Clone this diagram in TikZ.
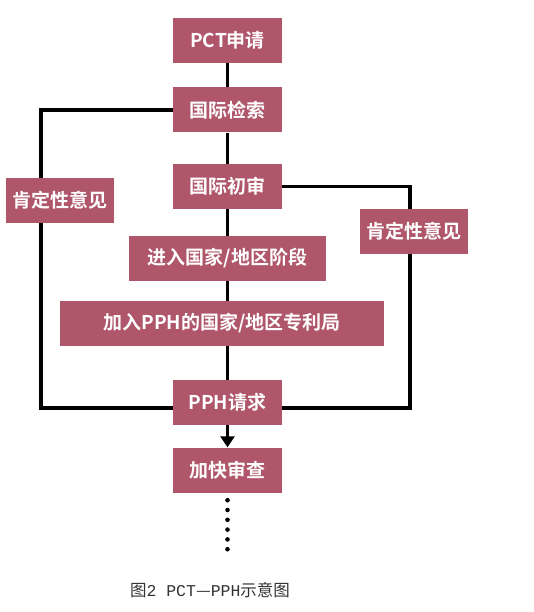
\documentclass[tikz,border=0pt]{standalone}
\usepackage{fontspec}
\usepackage{xcolor}
\usetikzlibrary{arrows.meta,positioning,backgrounds}
\newfontfamily\cjkbold{Noto Sans CJK SC Bold}
\newfontfamily\cjkcap{Noto Sans CJK SC}
\newfontfamily\capmono{Liberation Mono}
\definecolor{boxred}{HTML}{AF566B}
\definecolor{capgray}{HTML}{333333}

\begin{document}
\begin{tikzpicture}[x=1pt,y=-1pt,
    stepbox/.style={fill=boxred,text=white,inner sep=0pt,
      minimum width=109pt,minimum height=45pt,
      font=\cjkbold\fontsize{19}{19}\selectfont},
    flow/.style={line width=3.2pt,black}]
  \useasboundingbox (0,0) rectangle (534,612);
  % main column
  \node[stepbox] (pct) at (227.5,40.5) {PCT申请};
  \node[stepbox] (jcs) at (227.5,110) {国际检索};
  \node[stepbox] (cs) at (227.5,186.5) {国际初审};
  \node[stepbox,minimum width=197pt] (jr) at (227.5,258.5) {进入国家/地区阶段};
  \node[stepbox,minimum width=324pt] (jrpph) at (222,323.5) {加入PPH的国家/地区专利局};
  \node[stepbox] (pph) at (227.5,402.5) {PPH请求};
  \node[stepbox] (jk) at (227.5,470) {加快审查};
  % side boxes
  \node[stepbox,minimum width=108pt] (kl) at (60,200.5) {肯定性意见};
  \node[stepbox,minimum width=108pt] (kr) at (414,231.5) {肯定性意见};
  \coordinate (lb) at (41,408);
  \coordinate (rb) at (410,408);
  \coordinate (dotend) at (227.5,549.5);
  % caption
  \node[text=capgray,font=\fontsize{16.5}{16.5}\selectfont] (cap) at (210,590)
    {{\cjkcap 图}{\capmono 2 PCT}{\cjkcap —}{\capmono PPH}{\cjkcap 示意图}};
  \begin{scope}[on background layer]
    \draw[flow] (pct) -- (jcs) -- (cs) -- (jr);
    \draw[flow] (jr.south) -- (jr.south |- jrpph.north);
    \draw[flow] (pph.north |- jrpph.south) -- (pph.north);
    \draw[flow] (jcs.west) -| (lb) -- (pph.west |- lb);
    \draw[flow] (cs.east) -| (rb) -- (pph.east |- rb);
  \end{scope}
  \draw[flow,-{Triangle[width=14pt,length=11pt]}] (pph.south) -- (jk.north);
  \draw[line width=4.6pt,line cap=round,dash pattern=on 0pt off 9.8pt]
    ([yshift=-7.5pt]jk.south) -- (dotend);
\end{tikzpicture}
\end{document}
